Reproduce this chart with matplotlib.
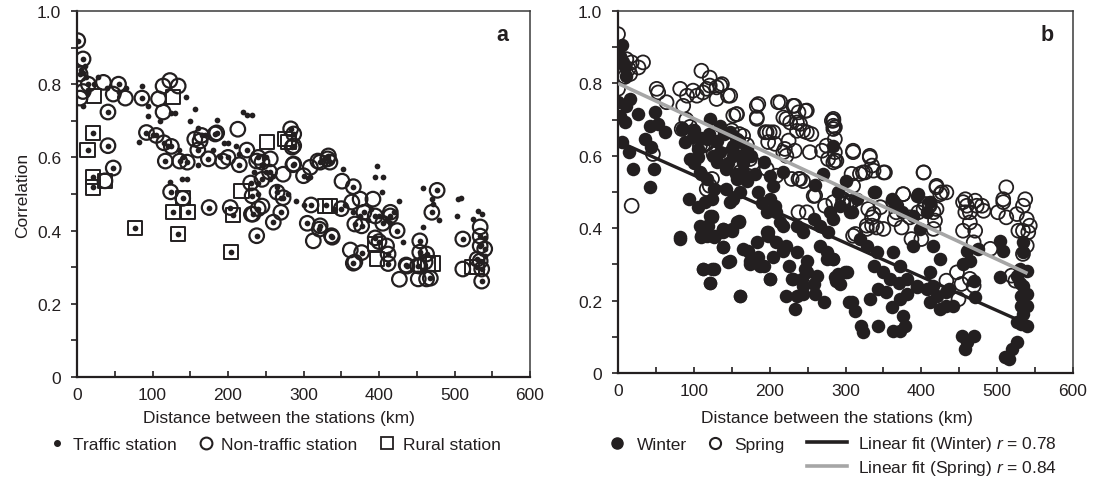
import matplotlib
matplotlib.use("Agg")
import matplotlib.pyplot as plt
from matplotlib.lines import Line2D
import numpy as np

plt.rcParams['font.family'] = ['Liberation Sans', 'DejaVu Sans']
plt.rcParams['mathtext.fontset'] = 'custom'
plt.rcParams['mathtext.it'] = 'Liberation Sans:italic'
plt.rcParams['mathtext.rm'] = 'Liberation Sans'

# ---------------- Panel a data ----------------
# traffic station pairs (small dots only)
traffic_x = [5, 10, 12, 8, 7.5, 28, 22, 86, 94, 94, 82, 144, 123, 139, 156, 220, 225, 232, 185,
             146, 309, 352, 306, 395, 405, 458, 470, 472, 505, 509, 503, 531, 536, 525, 458, 397,
             404, 426, 432, 110, 130, 150, 160, 170, 200, 210, 215, 245, 250, 260, 265, 280, 290,
             300, 330, 340, 355, 365, 375, 385, 390, 400, 410, 415, 420, 250, 180, 190, 195, 100,
             120, 135, 140, 160, 255, 270, 235, 240, 240, 480, 535, 540, 530, 540, 15, 40, 55, 65, 125]
traffic_y = [0.84, 0.85, 0.82, 0.83, 0.74, 0.82, 0.80, 0.794, 0.741, 0.714, 0.641, 0.765, 0.532, 0.54,
             0.732, 0.724, 0.716, 0.716, 0.702, 0.541, 0.546, 0.568, 0.543, 0.546, 0.546, 0.516, 0.486,
             0.473, 0.486, 0.49, 0.44, 0.454, 0.445, 0.432, 0.41, 0.577, 0.505, 0.481, 0.368, 0.70, 0.72,
             0.70, 0.68, 0.66, 0.64, 0.63, 0.61, 0.58, 0.56, 0.55, 0.52, 0.50, 0.48, 0.47, 0.47, 0.46,
             0.47, 0.45, 0.44, 0.43, 0.46, 0.44, 0.43, 0.42, 0.45, 0.60, 0.62, 0.60, 0.64, 0.66, 0.63,
             0.62, 0.60, 0.58, 0.54, 0.49, 0.56, 0.53, 0.50, 0.43, 0.36, 0.33, 0.30, 0.38, 0.78, 0.79,
             0.78, 0.79, 0.72]
# non-traffic pairs that also involve a traffic station (circle with dot)
nt_traffic_x = [1, 8, 4, 15, 55, 41, 41, 48, 86, 92, 117, 124, 140, 175, 203, 238, 185, 136, 283, 287,
                285, 183, 332, 366, 477, 470, 454, 437, 412, 412, 366, 337, 322, 424, 260, 233, 232,
                265, 273, 286, 174, 146, 287, 287, 322, 333, 335, 368, 377, 338, 321, 377, 436, 454,
                451, 468, 511, 534, 534, 540, 534, 536, 530, 536, 463, 105, 115, 125, 200, 215, 225,
                240, 255, 245, 230, 300, 310, 350, 380, 395, 405, 415, 160, 165, 240, 270, 305, 395, 400]
nt_traffic_y = [0.919, 0.869, 0.828, 0.80, 0.80, 0.724, 0.632, 0.571, 0.762, 0.668, 0.59, 0.506, 0.488,
                0.463, 0.463, 0.386, 0.667, 0.59, 0.678, 0.664, 0.628, 0.664, 0.596, 0.52, 0.51, 0.45,
                0.372, 0.303, 0.336, 0.31, 0.311, 0.386, 0.413, 0.40, 0.423, 0.445, 0.495, 0.505, 0.49,
                0.58, 0.596, 0.587, 0.632, 0.582, 0.587, 0.604, 0.587, 0.418, 0.413, 0.382, 0.404, 0.34,
                0.306, 0.341, 0.304, 0.27, 0.377, 0.385, 0.358, 0.35, 0.317, 0.295, 0.322, 0.262, 0.336,
                0.66, 0.64, 0.63, 0.60, 0.58, 0.62, 0.60, 0.56, 0.54, 0.53, 0.55, 0.47, 0.46, 0.45, 0.44,
                0.42, 0.44, 0.62, 0.66, 0.46, 0.45, 0.42, 0.38, 0.37]
# non-traffic pairs only (open circle)
nt_only_x = [4, 35, 48, 64, 114, 123, 134, 108, 114, 213, 163, 156, 193, 238, 245, 256, 273, 309, 319,
             351, 362, 313, 463, 452, 461, 454, 511, 534, 364, 375, 392, 415, 231, 245, 37, 368, 410,
             427, 8]
nt_only_y = [0.762, 0.805, 0.773, 0.762, 0.795, 0.81, 0.795, 0.76, 0.724, 0.677, 0.645, 0.65, 0.59,
             0.59, 0.587, 0.596, 0.554, 0.573, 0.59, 0.535, 0.347, 0.372, 0.268, 0.268, 0.314, 0.303,
             0.295, 0.41, 0.478, 0.486, 0.486, 0.45, 0.445, 0.467, 0.536, 0.314, 0.358, 0.267, 0.78]
# rural pairs with a traffic station (square with dot)
rural_traffic_x = [21, 14, 21, 21, 77, 127, 147, 134, 207, 204]
rural_traffic_y = [0.667, 0.621, 0.546, 0.518, 0.407, 0.45, 0.45, 0.39, 0.443, 0.341]
# rural pairs only (open square)
rural_only_x = [23, 127, 140, 37, 218, 252, 280, 275, 328, 335, 395, 397, 465, 472, 523, 530]
rural_only_y = [0.767, 0.764, 0.49, 0.536, 0.508, 0.642, 0.642, 0.65, 0.468, 0.468, 0.363, 0.322,
                0.309, 0.31, 0.30, 0.30]

# ---------------- Panel b data ----------------
winter_x = [0, 3, 5, 7, 9, 11, 0, 3, 11, 16, 9, 27, 42, 53, 62, 49, 5, 14, 20, 42, 47, 36, 44,
            84, 88, 99, 95, 106, 93, 106, 115, 124, 124, 119, 110, 82, 139, 150, 159,
            200, 209, 218, 196, 82, 112, 124, 121, 110, 117, 126, 124, 139, 150, 159, 152, 139, 145, 161,
            172, 174, 183, 185, 192, 198, 200, 205, 218, 222, 233, 236, 244, 258, 260, 271, 247, 249,
            229, 242, 275, 284, 286, 293, 302, 304, 284, 290, 299, 288, 308, 313, 321, 323, 332, 343,
            343, 361, 363, 372, 376, 378, 381, 370, 359, 394, 407, 411, 425, 433, 420, 436, 453, 460,
            469, 458, 469, 471, 460, 464, 475, 455, 504, 508, 504, 510, 515, 519, 526, 526, 530, 534,
            532, 539, 532, 539, 534, 532, 539, 526, 534, 534, 530, 539, 284, 308, 339, 361, 367, 396,
            374, 389, 407, 117, 135, 152, 161, 165, 157, 108, 117, 126, 143, 161, 148, 121, 108, 117,
            128, 139, 157, 139, 165, 148, 174, 187, 121, 112, 126, 161, 200, 198, 209, 214, 196, 207,
            222, 236, 225, 249, 231, 244, 262, 275, 266, 277, 284, 293, 306, 319, 328, 341, 337, 350,
            363, 372, 381, 354, 372, 394, 411, 416, 433, 442, 389, 398, 416, 425, 394, 411, 337, 121,
            135, 148, 157, 130, 143, 152, 192, 200, 205, 218, 236, 244, 258, 266, 280, 140, 150, 160,
            170, 175, 165, 180, 170, 185, 190, 155, 145, 100, 105, 110, 120, 130, 125, 100, 110, 270,
            260, 290, 300, 315]
winter_y = [0.89, 0.877, 0.905, 0.858, 0.844, 0.821, 0.748, 0.711, 0.738, 0.757, 0.692, 0.715, 0.683,
            0.688, 0.665, 0.72, 0.637, 0.61, 0.564, 0.513, 0.564, 0.646, 0.623, 0.674, 0.637, 0.651,
            0.591, 0.596, 0.48, 0.458, 0.472, 0.48, 0.435, 0.406, 0.379, 0.375, 0.398, 0.398, 0.421,
            0.48, 0.444, 0.407, 0.389, 0.37, 0.287, 0.287, 0.25, 0.375, 0.407, 0.375, 0.43, 0.398,
            0.393, 0.416, 0.48, 0.347, 0.306, 0.214, 0.338, 0.301, 0.361, 0.32, 0.296, 0.389, 0.26,
            0.32, 0.338, 0.214, 0.177, 0.214, 0.218, 0.246, 0.218, 0.195, 0.287, 0.31, 0.26, 0.26,
            0.333, 0.315, 0.264, 0.246, 0.278, 0.195, 0.315, 0.273, 0.278, 0.255, 0.195, 0.172, 0.131,
            0.113, 0.204, 0.232, 0.131, 0.181, 0.117, 0.117, 0.158, 0.131, 0.218, 0.25, 0.26, 0.237,
            0.232, 0.195, 0.177, 0.186, 0.214, 0.232, 0.103, 0.085, 0.103, 0.066, 0.255, 0.209, 0.338,
            0.31, 0.343, 0.301, 0.365, 0.338, 0.264, 0.043, 0.039, 0.066, 0.085, 0.269, 0.25, 0.241,
            0.214, 0.218, 0.186, 0.186, 0.163, 0.135, 0.131, 0.14, 0.333, 0.361, 0.287, 0.283, 0.628,
            0.444, 0.499, 0.48, 0.462, 0.494, 0.444, 0.435, 0.444, 0.646, 0.61, 0.628, 0.6, 0.554,
            0.536, 0.554, 0.536, 0.508, 0.508, 0.499, 0.471, 0.435, 0.407, 0.379, 0.379, 0.389, 0.416,
            0.347, 0.343, 0.31, 0.31, 0.296, 0.25, 0.287, 0.287, 0.214, 0.26, 0.379, 0.361, 0.416,
            0.444, 0.462, 0.352, 0.333, 0.296, 0.278, 0.26, 0.241, 0.269, 0.315, 0.352, 0.389, 0.425,
            0.462, 0.444, 0.37, 0.352, 0.333, 0.296, 0.278, 0.333, 0.296, 0.26, 0.223, 0.204, 0.241,
            0.278, 0.241, 0.223, 0.186, 0.352, 0.398, 0.352, 0.315, 0.49, 0.471, 0.499, 0.702, 0.683,
            0.665, 0.646, 0.582, 0.564, 0.6, 0.582, 0.545, 0.517, 0.554, 0.407, 0.389, 0.425, 0.407,
            0.444, 0.66, 0.62, 0.64, 0.62, 0.60, 0.58, 0.55, 0.53, 0.50, 0.47, 0.55, 0.58, 0.67, 0.62,
            0.65, 0.66, 0.64, 0.60, 0.58, 0.55, 0.55, 0.52, 0.50, 0.53, 0.48]
spring_x = [0, 11, 18, 14, 9, 16, 27, 33, 0, 51, 53, 64, 18, 46, 82, 91, 99, 110, 121, 104, 112, 117,
            130, 137, 145, 130, 86, 183, 183, 211, 231, 238, 247, 218, 227, 240, 249, 236, 84, 117,
            112, 152, 156, 165, 174, 196, 205, 198, 218, 222, 238, 244, 258, 284, 284, 275, 288, 297,
            302, 121, 161, 284, 297, 308, 330, 337, 335, 363, 367, 385, 396, 405, 411, 420, 418, 310,
            328, 335, 350, 365, 374, 387, 400, 416, 433, 447, 449, 453, 464, 469, 455, 458, 473, 482,
            455, 464, 471, 469, 491, 501, 508, 512, 526, 534, 539, 543, 528, 534, 541, 519, 524, 534,
            539, 284, 286, 286, 286, 284, 310, 332, 335, 352, 319, 326, 403, 420, 427, 458, 460, 471,
            480, 464, 512, 537, 508, 376, 306, 297, 185, 214, 233, 249, 183, 222, 236, 244, 255, 282,
            284, 194, 200, 207, 225, 220, 233, 253, 269, 277, 286, 310, 332, 323, 337, 350, 308, 310,
            367, 376, 403, 420, 425, 411, 416, 433, 403, 297, 313, 328, 341, 346, 121, 135, 148, 157,
            126, 108, 115, 117, 124, 165, 196, 209, 229, 240, 260, 273, 238, 249, 140, 150, 160, 170,
            178, 145, 90, 95]
spring_y = [0.936, 0.867, 0.858, 0.84, 0.818, 0.826, 0.844, 0.858, 0.785, 0.785, 0.775, 0.748, 0.462,
            0.605, 0.785, 0.766, 0.78, 0.835, 0.816, 0.766, 0.775, 0.785, 0.789, 0.798, 0.766, 0.757,
            0.738, 0.738, 0.706, 0.748, 0.738, 0.72, 0.724, 0.706, 0.692, 0.688, 0.665, 0.669, 0.674,
            0.633, 0.628, 0.711, 0.715, 0.655, 0.591, 0.665, 0.665, 0.638, 0.61, 0.6, 0.536, 0.53,
            0.489, 0.702, 0.683, 0.628, 0.586, 0.48, 0.471, 0.517, 0.555, 0.472, 0.467, 0.472, 0.453,
            0.439, 0.43, 0.472, 0.444, 0.43, 0.444, 0.467, 0.462, 0.453, 0.421, 0.379, 0.398, 0.407,
            0.398, 0.425, 0.402, 0.37, 0.37, 0.398, 0.255, 0.278, 0.204, 0.246, 0.26, 0.241, 0.472,
            0.444, 0.462, 0.448, 0.393, 0.416, 0.393, 0.361, 0.343, 0.444, 0.472, 0.43, 0.439, 0.462,
            0.425, 0.407, 0.393, 0.393, 0.389, 0.269, 0.255, 0.329, 0.352, 0.697, 0.679, 0.646, 0.61,
            0.582, 0.61, 0.6, 0.573, 0.554, 0.55, 0.554, 0.554, 0.513, 0.499, 0.48, 0.462, 0.476, 0.462,
            0.444, 0.513, 0.48, 0.48, 0.494, 0.472, 0.476, 0.743, 0.748, 0.738, 0.725, 0.702, 0.702,
            0.692, 0.669, 0.66, 0.697, 0.674, 0.665, 0.665, 0.633, 0.642, 0.619, 0.614, 0.61, 0.614,
            0.591, 0.587, 0.614, 0.596, 0.554, 0.559, 0.554, 0.55, 0.517, 0.462, 0.494, 0.554, 0.517,
            0.494, 0.467, 0.444, 0.499, 0.453, 0.467, 0.384, 0.407, 0.402, 0.458, 0.794, 0.794, 0.766,
            0.715, 0.605, 0.628, 0.633, 0.508, 0.536, 0.61, 0.564, 0.545, 0.536, 0.536, 0.49, 0.462,
            0.444, 0.444, 0.64, 0.67, 0.66, 0.63, 0.58, 0.60, 0.70, 0.68]
# linear fits (end points)
fit_x = [0, 540]
fit_winter_y = [0.64, 0.135]
fit_spring_y = [0.80, 0.275]

x_ticks = [0, 100, 200, 300, 400, 500, 600]
y_ticks = [0, 0.2, 0.4, 0.6, 0.8, 1.0]
y_tick_labels = ['0', '0.2', '0.4', '0.6', '0.8', '1.0']

W, H = 1098, 481
fig = plt.figure(figsize=(W / 100, H / 100), dpi=100)
ink = '#231f20'
axA = fig.add_axes([77 / W, (H - 378) / H, 453 / W, 366 / H])
axB = fig.add_axes([618 / W, (H - 374) / H, 455 / W, 362 / H])

FS = 12.5


def style(ax, label_x, label_y):
    ax.set_xlim(0, 600)
    ax.set_ylim(0, 1.0)
    ax.set_xticks(x_ticks)
    ax.set_xticks([50, 150, 250, 350, 450, 550], minor=True)
    ax.set_yticks(y_ticks)
    ax.set_yticklabels(y_tick_labels)
    ax.set_yticks([0.1, 0.3, 0.5, 0.7, 0.9], minor=True)
    ax.tick_params(axis='x', which='both', direction='in', length=4, width=1.2, colors=ink,
                   labelsize=FS, pad=7)
    ax.tick_params(axis='y', which='both', direction='out', length=4, width=1.2, colors=ink,
                   labelsize=FS, pad=7.5)
    for s in ['left', 'bottom']:
        ax.spines[s].set_linewidth(1.6)
        ax.spines[s].set_color(ink)
    for s in ['top', 'right']:
        ax.spines[s].set_linewidth(1.1)
        ax.spines[s].set_color('#3a3a3a')
    ax.set_xlabel('Distance between the stations (km)', fontsize=FS, color=ink)
    ax.xaxis.set_label_coords(label_x, label_y)
    ax.xaxis.label.set_verticalalignment('center')


style(axA, (279 - 77) / 453, (378 - 419) / 366)
style(axB, (837 - 618) / 455, (374 - 419) / 362)
axA.set_ylabel('Correlation', fontsize=FS, color=ink, labelpad=5)

# Panel a
axA.scatter(nt_traffic_x + nt_only_x, nt_traffic_y + nt_only_y, s=110, facecolors='none',
            edgecolors=ink, linewidths=1.6, zorder=3)
axA.scatter(rural_traffic_x + rural_only_x, rural_traffic_y + rural_only_y, s=105, marker='s',
            facecolors='none', edgecolors=ink, linewidths=1.4, zorder=3)
axA.scatter(traffic_x + nt_traffic_x + rural_traffic_x, traffic_y + nt_traffic_y + rural_traffic_y,
            s=17, color=ink, linewidths=0, zorder=4)
axA.text(0.94, 0.937, 'a', transform=axA.transAxes, fontsize=15.5, fontweight='bold',
         ha='center', va='center', color=ink)

em = FS * 100 / 72.0  # font size in pixels


def fig_xy(px, py):
    return (px / W, 1 - py / H)


hA = [Line2D([], [], ls='none', marker='o', ms=4, color=ink),
      Line2D([], [], ls='none', marker='o', ms=8.5, mfc='none', mec=ink, mew=1.5),
      Line2D([], [], ls='none', marker='s', ms=9, mfc='none', mec=ink, mew=1.3)]
fig.legend(hA, ['Traffic station', 'Non-traffic station', 'Rural station'], ncol=3,
           loc='center left', bbox_to_anchor=fig_xy(50, 445), frameon=False, fontsize=FS,
           handlelength=0.8, handletextpad=0.5, columnspacing=1.3, borderpad=0,
           borderaxespad=0, labelcolor=ink)

# Panel b
axB.scatter(winter_x, winter_y, s=95, color=ink, linewidths=0, zorder=3)
axB.scatter(spring_x, spring_y, s=100, facecolors='none', edgecolors=ink, linewidths=1.3,
            zorder=3)
axB.plot(fit_x, fit_winter_y, color=ink, lw=2.4, zorder=5, solid_capstyle='butt')
axB.plot(fit_x, fit_spring_y, color='#a6a6a6', lw=2.6, zorder=5, solid_capstyle='butt')
axB.text(0.943, 0.936, 'b', transform=axB.transAxes, fontsize=15.5, fontweight='bold',
         ha='center', va='center', color=ink)

hB1 = [Line2D([], [], ls='none', marker='o', ms=8, color=ink),
       Line2D([], [], ls='none', marker='o', ms=8, mfc='none', mec=ink, mew=1.5)]
fig.legend(hB1, ['Winter', 'Spring'], ncol=2, loc='center left',
           bbox_to_anchor=fig_xy(608, 445), frameon=False, fontsize=FS,
           handlelength=1.0, handletextpad=0.65, columnspacing=1.1, borderpad=0,
           borderaxespad=0, labelcolor=ink)
hB2 = [Line2D([], [], color=ink, lw=2.6),
       Line2D([], [], color='#a6a6a6', lw=2.6)]
fig.legend(hB2, ['Linear fit (Winter) $r$ = 0.78', 'Linear fit (Spring) $r$ = 0.84'], ncol=1,
           loc='center left', bbox_to_anchor=fig_xy(807, 456.5), frameon=False, fontsize=FS,
           handlelength=40 / em, handletextpad=0.63, borderpad=0, borderaxespad=0,
           labelspacing=0.3, labelcolor=ink)

fig.savefig('out.png', dpi=100)
